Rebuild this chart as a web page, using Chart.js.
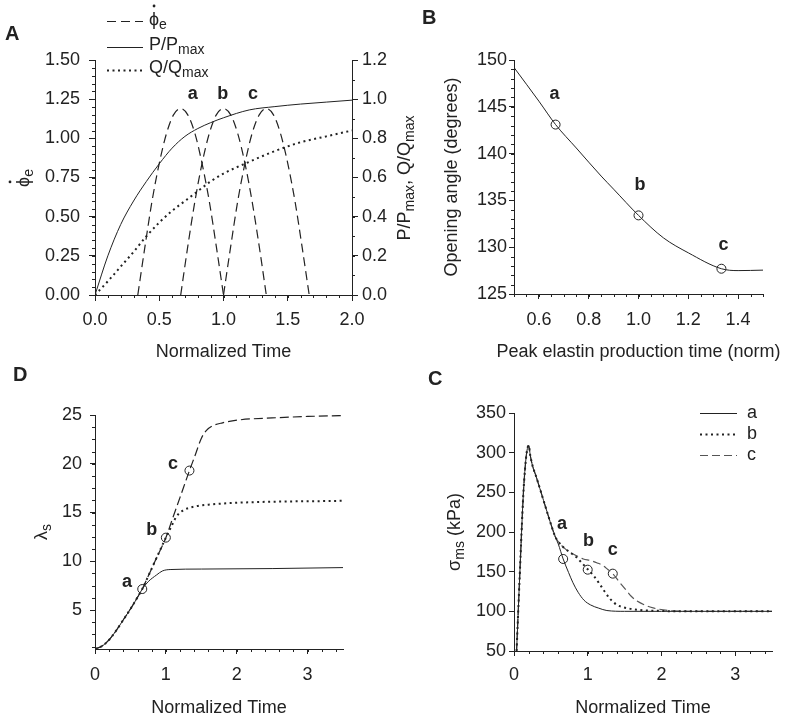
<!DOCTYPE html>
<html>
<head>
<meta charset="utf-8">
<script src="https://cdn.jsdelivr.net/npm/chart.js@4.4.0/dist/chart.umd.min.js"></script>
<style>
  body { margin: 0; background: #fff; width: 800px; height: 722px; position: relative; overflow: hidden; }
  canvas { position: absolute; }
</style>
</head>
<body>
<canvas id="cA" width="420" height="363" style="left:0;top:0"></canvas>
<canvas id="cB" width="385" height="363" style="left:415px;top:0"></canvas>
<canvas id="cD" width="400" height="356" style="left:0;top:363px"></canvas>
<canvas id="cC" width="385" height="356" style="left:415px;top:363px"></canvas>
<script>
// Panel A: elastin production pulses and P, Q ratios
const tPulseA = [0.333, 0.389, 0.444, 0.5, 0.556, 0.611, 0.667, 0.722, 0.778, 0.833, 0.889, 0.944, 1.0];
const tPulseB = [0.667, 0.722, 0.778, 0.833, 0.889, 0.944, 1.0, 1.056, 1.111, 1.167, 1.222, 1.278, 1.333];
const tPulseC = [1.0, 1.056, 1.111, 1.167, 1.222, 1.278, 1.333, 1.389, 1.444, 1.5, 1.556, 1.611, 1.667];
const phiPulse = [0, 0.31, 0.60, 0.84, 1.03, 1.15, 1.19, 1.15, 1.03, 0.84, 0.60, 0.31, 0];
const tRatio = [0, 0.1, 0.2, 0.3, 0.4, 0.5, 0.6, 0.7, 0.8, 0.9, 1.0, 1.2, 1.4, 1.6, 1.8, 2.0];
const pRatio = [0, 0.20, 0.36, 0.48, 0.58, 0.67, 0.75, 0.81, 0.85, 0.88, 0.905, 0.945, 0.962, 0.975, 0.985, 0.995];
const qRatio = [0, 0.07, 0.145, 0.22, 0.30, 0.37, 0.43, 0.48, 0.53, 0.58, 0.62, 0.68, 0.735, 0.78, 0.81, 0.84];
const ticksAX = [0, 0.5, 1.0, 1.5, 2.0];
const ticksAY = [0, 0.25, 0.5, 0.75, 1.0, 1.25, 1.5];
const ticksAY2 = [0, 0.2, 0.4, 0.6, 0.8, 1.0, 1.2];

// Panel B: opening angle vs peak time
const tPeak = [0.5, 0.6, 0.667, 0.75, 0.85, 0.9, 1.0, 1.1, 1.2, 1.333, 1.4, 1.5];
const openAngle = [149.2, 145.6, 143.1, 140.6, 137.6, 136.2, 133.4, 131.0, 129.4, 127.7, 127.5, 127.55];
const tPeakMark = [0.667, 1.0, 1.333];
const openAngleMark = [143.1, 133.4, 127.7];
const ticksBX = [0.6, 0.8, 1.0, 1.2, 1.4];
const ticksBY = [125, 130, 135, 140, 145, 150];

// Panel D: lambda_s
const tDa = [0, 0.1, 0.2, 0.3, 0.4, 0.5, 0.6, 0.667, 0.75, 0.87, 0.95, 1.06, 1.5, 2.5, 3.5];
const lamA = [1.0, 1.3, 1.95, 2.9, 4.0, 5.1, 6.3, 7.15, 7.9, 8.6, 9.0, 9.15, 9.2, 9.25, 9.35];
const tDb = [0, 0.1, 0.2, 0.3, 0.4, 0.5, 0.6, 0.667, 0.75, 0.85, 1.0, 1.1, 1.15, 1.24, 1.4, 1.6, 2.0, 3.5];
const lamB = [1.0, 1.3, 1.95, 2.9, 4.0, 5.1, 6.3, 7.15, 8.45, 10.05, 12.42, 13.9, 14.6, 15.2, 15.6, 15.8, 16.0, 16.2];
const tDc = [0, 0.1, 0.2, 0.3, 0.4, 0.5, 0.6, 0.667, 0.75, 0.85, 1.0, 1.1, 1.2, 1.333, 1.42, 1.5, 1.57, 1.65, 1.8, 2.04, 2.5, 3.0, 3.5];
const lamC = [1.0, 1.3, 1.95, 2.9, 4.0, 5.1, 6.3, 7.15, 8.45, 10.05, 12.42, 14.5, 16.55, 19.3, 21.0, 22.6, 23.4, 23.85, 24.2, 24.5, 24.7, 24.85, 24.95];
const tDMark = [0.667, 1.0, 1.333];
const lamMark = [7.15, 12.42, 19.3];
const ticksDX = [0, 1, 2, 3];
const ticksDY = [5, 10, 15, 20, 25];

// Panel C: sigma_ms
const tCa = [0.035, 0.08, 0.125, 0.15, 0.175, 0.2, 0.22, 0.25, 0.3, 0.4, 0.49, 0.56, 0.6, 0.667, 0.74, 0.8, 0.87, 0.95, 1.04, 1.15, 1.26, 1.5, 2.0, 3.5];
const sigA = [50, 150, 245, 280, 302, 309, 297, 284, 270, 240, 213, 194, 185, 166, 149, 136, 124, 114, 108, 104, 101, 100, 100, 100];
const tCb = [0.035, 0.08, 0.125, 0.15, 0.175, 0.2, 0.22, 0.25, 0.3, 0.4, 0.49, 0.56, 0.6, 0.667, 0.75, 0.85, 0.92, 1.0, 1.08, 1.15, 1.23, 1.31, 1.4, 1.49, 1.67, 2.0, 2.3, 3.5];
const sigB = [50, 150, 245, 280, 302, 309, 297, 284, 270, 240, 213, 194, 188, 181, 175, 168, 161, 153, 145, 136, 125, 115, 108, 105, 102, 100.5, 100, 100];
const tCc = [0.035, 0.08, 0.125, 0.15, 0.175, 0.2, 0.22, 0.25, 0.3, 0.4, 0.49, 0.56, 0.6, 0.667, 0.75, 0.85, 0.94, 1.04, 1.13, 1.2, 1.27, 1.34, 1.42, 1.51, 1.59, 1.67, 1.8, 1.9, 2.1, 2.4, 3.5];
const sigC = [50, 150, 245, 280, 302, 309, 297, 284, 270, 240, 213, 194, 188, 181, 175, 170, 166, 164, 161, 158, 153, 147.5, 138, 128, 119, 113, 107, 104, 101, 100, 100];
const tCMark = [0.667, 1.0, 1.34];
const sigMark = [166, 152.5, 147.5];
const ticksCX = [0, 1, 2, 3];
const ticksCY = [50, 100, 150, 200, 250, 300, 350];

const FAM = "'Liberation Sans', Arial, sans-serif";
const INK = '#222';
Chart.defaults.font.family = FAM;
Chart.defaults.font.size = 18;
Chart.defaults.color = INK;

const pts = (xs, ys) => xs.map((x, i) => ({x: x, y: ys[i]}));

function line(xs, ys, dash, width, color, yAxisID) {
  return {
    data: pts(xs, ys), borderColor: color || INK, borderWidth: width || 1,
    borderDash: dash || [], pointRadius: 0, fill: false,
    cubicInterpolationMode: 'monotone', yAxisID: yAxisID || 'y'
  };
}
function marks(xs, ys) {
  return {
    data: pts(xs, ys), showLine: false, pointRadius: 4.5, pointStyle: 'circle',
    pointBackgroundColor: 'rgba(0,0,0,0)', pointBorderColor: INK, pointBorderWidth: 1
  };
}

function axis(pos, min, max, tickVals, fmt, size, tl, pad, title) {
  return {
    type: 'linear', position: pos, min: min, max: max,
    afterBuildTicks: s => { s.ticks = tickVals.map(v => ({value: v})); },
    afterFit: s => { if (s.isHorizontal()) s.height = size; else s.width = size; },
    ticks: { callback: v => fmt(v), padding: pad, color: INK, maxRotation: 0, autoSkip: false },
    grid: { drawOnChartArea: false, drawTicks: true, tickLength: tl, tickColor: INK, tickWidth: 1 },
    border: { display: true, color: INK, width: 1 },
    title: title || { display: false }
  };
}
const xTitle = txt => ({ display: true, text: txt, color: INK, font: {size: 18}, padding: {top: 0, bottom: 0} });

// rich text with subscripts; kind: n normal, s subscript, d phi with dot
function rich(ctx, parts, x, y, rot, align) {
  ctx.save();
  ctx.translate(x, y);
  ctx.rotate(rot || 0);
  const font = k => (k === 's' ? '14px ' : '18px ') + FAM;
  let w = 0;
  parts.forEach(p => { ctx.font = font(p[1]); w += ctx.measureText(p[0]).width; });
  let cx = align === 'left' ? 0 : -w / 2;
  ctx.textBaseline = 'middle';
  ctx.textAlign = 'left';
  ctx.fillStyle = INK;
  parts.forEach(p => {
    ctx.font = font(p[1]);
    const pw = ctx.measureText(p[0]).width;
    ctx.fillText(p[0], cx, p[1] === 's' ? 5 : 0);
    if (p[1] === 'd') {
      ctx.beginPath();
      ctx.arc(cx + pw / 2, -14, 1.4, 0, Math.PI * 2);
      ctx.fill();
    }
    cx += pw;
  });
  ctx.restore();
}

function legendLine(ctx, x1, x2, y, dash, width, color) {
  ctx.save();
  ctx.strokeStyle = color || INK;
  ctx.lineWidth = width || 1;
  ctx.setLineDash(dash || []);
  ctx.beginPath();
  ctx.moveTo(x1, y + 0.5);
  ctx.lineTo(x2, y + 0.5);
  ctx.stroke();
  ctx.restore();
}

// minor ticks, a/b/c labels, panel letter and extra titles
function deco(cfg) {
  return {
    id: 'deco',
    afterDraw(chart) {
      const ctx = chart.ctx;
      ctx.save();
      ctx.strokeStyle = INK;
      ctx.lineWidth = 1;
      (cfg.minor || []).forEach(([id, start, step]) => {
        const s = chart.scales[id];
        ctx.beginPath();
        for (let k = 0; start + k * step <= s.max + 1e-9; k++) {
          const v = start + k * step;
          if (s.isHorizontal()) {
            const px = Math.round(s.getPixelForValue(v)) + 0.5;
            ctx.moveTo(px, s.top); ctx.lineTo(px, s.top + 3);
          } else {
            const py = Math.round(s.getPixelForValue(v)) + 0.5;
            if (s.position === 'left') { ctx.moveTo(s.right, py); ctx.lineTo(s.right - 3, py); }
            else { ctx.moveTo(s.left, py); ctx.lineTo(s.left + 3, py); }
          }
        }
        ctx.stroke();
      });
      ctx.fillStyle = INK;
      ctx.textAlign = 'center';
      ctx.textBaseline = 'middle';
      ctx.font = 'bold 18px ' + FAM;
      (cfg.labels || []).forEach(([txt, x, y, yid]) => {
        ctx.fillText(txt, chart.scales.x.getPixelForValue(x), chart.scales[yid || 'y'].getPixelForValue(y));
      });
      ctx.font = 'bold 20px ' + FAM;
      ctx.textAlign = 'left';
      ctx.fillText(cfg.letter[0], cfg.letter[1], cfg.letter[2]);
      if (cfg.extra) cfg.extra(ctx, chart);
      ctx.restore();
    }
  };
}

function makeChart(id, datasets, scales, padding, cfg) {
  return new Chart(document.getElementById(id), {
    type: 'line',
    data: { datasets: datasets },
    options: {
      responsive: false, animation: false, devicePixelRatio: 1, events: [],
      layout: { padding: padding },
      plugins: { legend: { display: false }, tooltip: { enabled: false } },
      scales: scales
    },
    plugins: [deco(cfg)]
  });
}

const f1 = v => v.toFixed(1), f2 = v => v.toFixed(2), f0 = v => String(v);

// A
makeChart('cA', [
  line(tPulseA, phiPulse, [9, 5], 1.2),
  line(tPulseB, phiPulse, [9, 5], 1.2),
  line(tPulseC, phiPulse, [9, 5], 1.2),
  line(tRatio, pRatio, [], 1, INK, 'y2'),
  line(tRatio, qRatio, [2, 3.5], 2, INK, 'y2')
], {
  x: axis('bottom', 0, 2, ticksAX, f1, 68, 6, 8, xTitle('Normalized Time')),
  y: axis('left', 0, 1.5, ticksAY, f2, 95, 6, 9),
  y2: axis('right', 0, 1.2, ticksAY2, f1, 68, 6, 4)
}, { top: 60, left: 0, right: 0, bottom: 0 }, {
  minor: [['x', 0, 0.1], ['y', 0, 0.05], ['y2', 0, 0.1]],
  labels: [['a', 0.76, 1.28], ['b', 0.995, 1.28], ['c', 1.23, 1.28]],
  letter: ['A', 5, 34],
  extra: ctx => {
    rich(ctx, [['ϕ', 'd'], ['e', 's']], 24, 178, -Math.PI / 2);
    rich(ctx, [['P/P', 'n'], ['max', 's'], [', Q/Q', 'n'], ['max', 's']], 405, 178, -Math.PI / 2);
    legendLine(ctx, 107, 143, 21, [9, 5], 1.2);
    legendLine(ctx, 107, 143, 47, [], 1);
    legendLine(ctx, 107, 143, 70, [2, 3.5], 2);
    rich(ctx, [['ϕ', 'd'], ['e', 's']], 149, 20, 0, 'left');
    rich(ctx, [['P/P', 'n'], ['max', 's']], 149, 45, 0, 'left');
    rich(ctx, [['Q/Q', 'n'], ['max', 's']], 149, 68, 0, 'left');
  }
});

// B
makeChart('cB', [
  line(tPeak, openAngle, [], 1),
  marks(tPeakMark, openAngleMark)
], {
  x: axis('bottom', 0.5, 1.5, ticksBX, f1, 69, 5, 10),
  y: axis('left', 125, 150, ticksBY, f0, 99, 5, 2,
    { display: true, text: 'Opening angle (degrees)', color: INK, font: {size: 18}, padding: {top: 26, bottom: 0} })
}, { top: 60, left: 0, right: 37, bottom: 0 }, {
  minor: [['x', 0.5, 0.05], ['y', 125, 1]],
  labels: [['a', 0.663, 146.4], ['b', 1.006, 136.6], ['c', 1.341, 130.2]],
  letter: ['B', 7, 18],
  extra: (ctx, chart) => {
    // x title is wider than the plot, so it is drawn here instead of by the scale
    const ca = chart.chartArea;
    rich(ctx, [['Peak elastin production time (norm)', 'n']], (ca.left + ca.right) / 2, 352, 0);
  }
});

// D
makeChart('cD', [
  line(tDa, lamA, [], 1),
  line(tDb, lamB, [2, 3.5], 2),
  line(tDc, lamC, [9, 4], 1.2),
  marks(tDMark, lamMark)
], {
  x: axis('bottom', 0, 3.5, ticksDX, f0, 70, 5, 10, xTitle('Normalized Time')),
  y: axis('left', 1, 25, ticksDY, f0, 95, 5, 8)
}, { top: 52, left: 0, right: 57, bottom: 0 }, {
  minor: [['x', 0, 0.2], ['y', 1.25, 1.25]],
  labels: [['a', 0.45, 7.86], ['b', 0.8, 13.2], ['c', 1.1, 20.0]],
  letter: ['D', 13, 12],
  extra: ctx => {
    rich(ctx, [['λ', 'n'], ['s', 's']], 42, 169, -Math.PI / 2);
  }
});

// C
makeChart('cC', [
  line(tCa, sigA, [], 1),
  line(tCb, sigB, [2, 3.5], 2),
  line(tCc, sigC, [8, 4], 1.2, '#555'),
  marks(tCMark, sigMark)
], {
  x: axis('bottom', 0, 3.5, ticksCX, f0, 68, 5, 8, xTitle('Normalized Time')),
  y: axis('left', 50, 350, ticksCY, f0, 99, 5, 3)
}, { top: 50, left: 0, right: 28, bottom: 0 }, {
  minor: [['x', 0, 0.2]],
  labels: [['a', 0.65, 210], ['b', 1.01, 189], ['c', 1.34, 177]],
  letter: ['C', 13, 16],
  extra: ctx => {
    rich(ctx, [['σ', 'n'], ['ms', 's'], [' (kPa)', 'n']], 40, 169, -Math.PI / 2);
    legendLine(ctx, 285, 322, 50, [], 1);
    legendLine(ctx, 285, 322, 71, [2, 3.5], 2);
    legendLine(ctx, 285, 322, 92, [8, 4], 1.2, '#555');
    ctx.font = '18px ' + FAM;
    ctx.textAlign = 'left';
    ctx.textBaseline = 'middle';
    ctx.fillText('a', 332, 50);
    ctx.fillText('b', 332, 71);
    ctx.fillText('c', 332, 92);
  }
});
</script>
</body>
</html>
